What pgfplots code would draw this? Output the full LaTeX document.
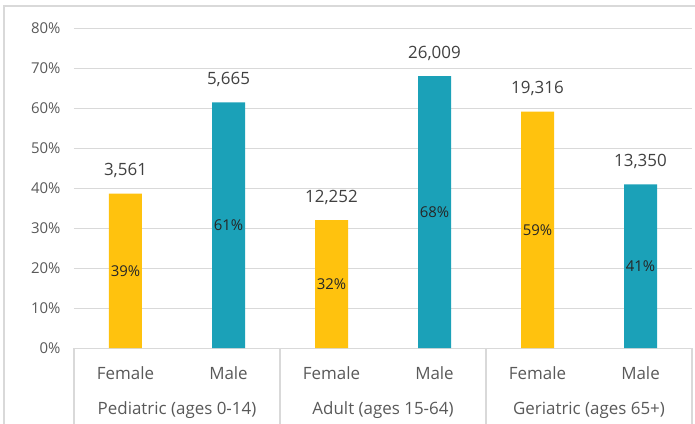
\documentclass[border=0pt]{standalone}
\usepackage{pgfplots}
\pgfplotsset{compat=1.18}
\usepackage{fontspec}
\setmainfont{Open Sans}
\definecolor{cF}{HTML}{FFC20E}
\definecolor{cM}{HTML}{1BA1B8}
\definecolor{gridc}{HTML}{D9D9D9}
\definecolor{tickc}{HTML}{595959}
\definecolor{labc}{HTML}{404040}
\definecolor{inc}{HTML}{262626}
\begin{document}
\begin{tikzpicture}
\useasboundingbox (-74bp,-76bp) rectangle (621bp,348bp);
\begin{axis}[name=ax, at={(0,0)}, anchor=south west,
  scale only axis, width=618bp, height=320bp,
  xmin=-0.5, xmax=5.5, ymin=0, ymax=80,
  clip=false,
  axis line style={draw=none},
  major tick length=0pt,
  ytick={0,10,...,80},
  yticklabels={0\%,10\%,20\%,30\%,40\%,50\%,60\%,70\%,80\%},
  yticklabel style={font=\fontsize{15}{18}\selectfont, color=tickc, xshift=-10bp},
  ymajorgrids, grid style={gridc, line width=1bp},
  xtick={0,...,5},
  xticklabels={Female,Male,Female,Male,Female,Male},
  xticklabel style={font=\fontsize{17}{20}\selectfont, color=tickc, anchor=center, yshift=-25bp},
  extra x ticks={0.5,2.5,4.5},
  extra x tick labels={Pediatric (ages 0-14),Adult (ages 15-64),Geriatric (ages 65+)},
  extra x tick style={tick label style={yshift=-37bp}},
  /pgf/number format/assume math mode=true,
]
\addplot[ybar, bar width=33bp, bar shift=0pt, fill=cF, draw=none,
  nodes near coords, point meta=explicit symbolic,
  nodes near coords style={font=\fontsize{17}{20}\selectfont, color=labc, anchor=center, yshift=23bp}]
  table[meta=lab] {
x y lab
0 38.6 3,561
2 32.0 12,252
4 59.1 19,316
};
\addplot[ybar, bar width=33bp, bar shift=0pt, fill=cM, draw=none,
  nodes near coords, point meta=explicit symbolic,
  nodes near coords style={font=\fontsize{17}{20}\selectfont, color=labc, anchor=center, yshift=23bp}]
  table[meta=lab] {
x y lab
1 61.4 5,665
3 68.0 26,009
5 40.9 13,350
};
\addplot[draw=none, mark=none, nodes near coords, point meta=explicit symbolic,
  nodes near coords style={font=\fontsize{15}{18}\selectfont, color=inc, anchor=center}]
  table[meta=lab] {
x y lab
0 19.3 39\%
1 30.7 61\%
2 16.0 32\%
3 34.0 68\%
4 29.55 59\%
5 20.45 41\%
};
\end{axis}
\foreach \xx in {0,206,412,618} {
  \draw[gridc, line width=1.2bp] (\xx bp,0) -- (\xx bp,-80bp);
}
\draw[gridc, line width=1.5bp] (-70bp,-80bp) -- (-70bp,342bp) -- (630bp,342bp);
\end{tikzpicture}
\end{document}
